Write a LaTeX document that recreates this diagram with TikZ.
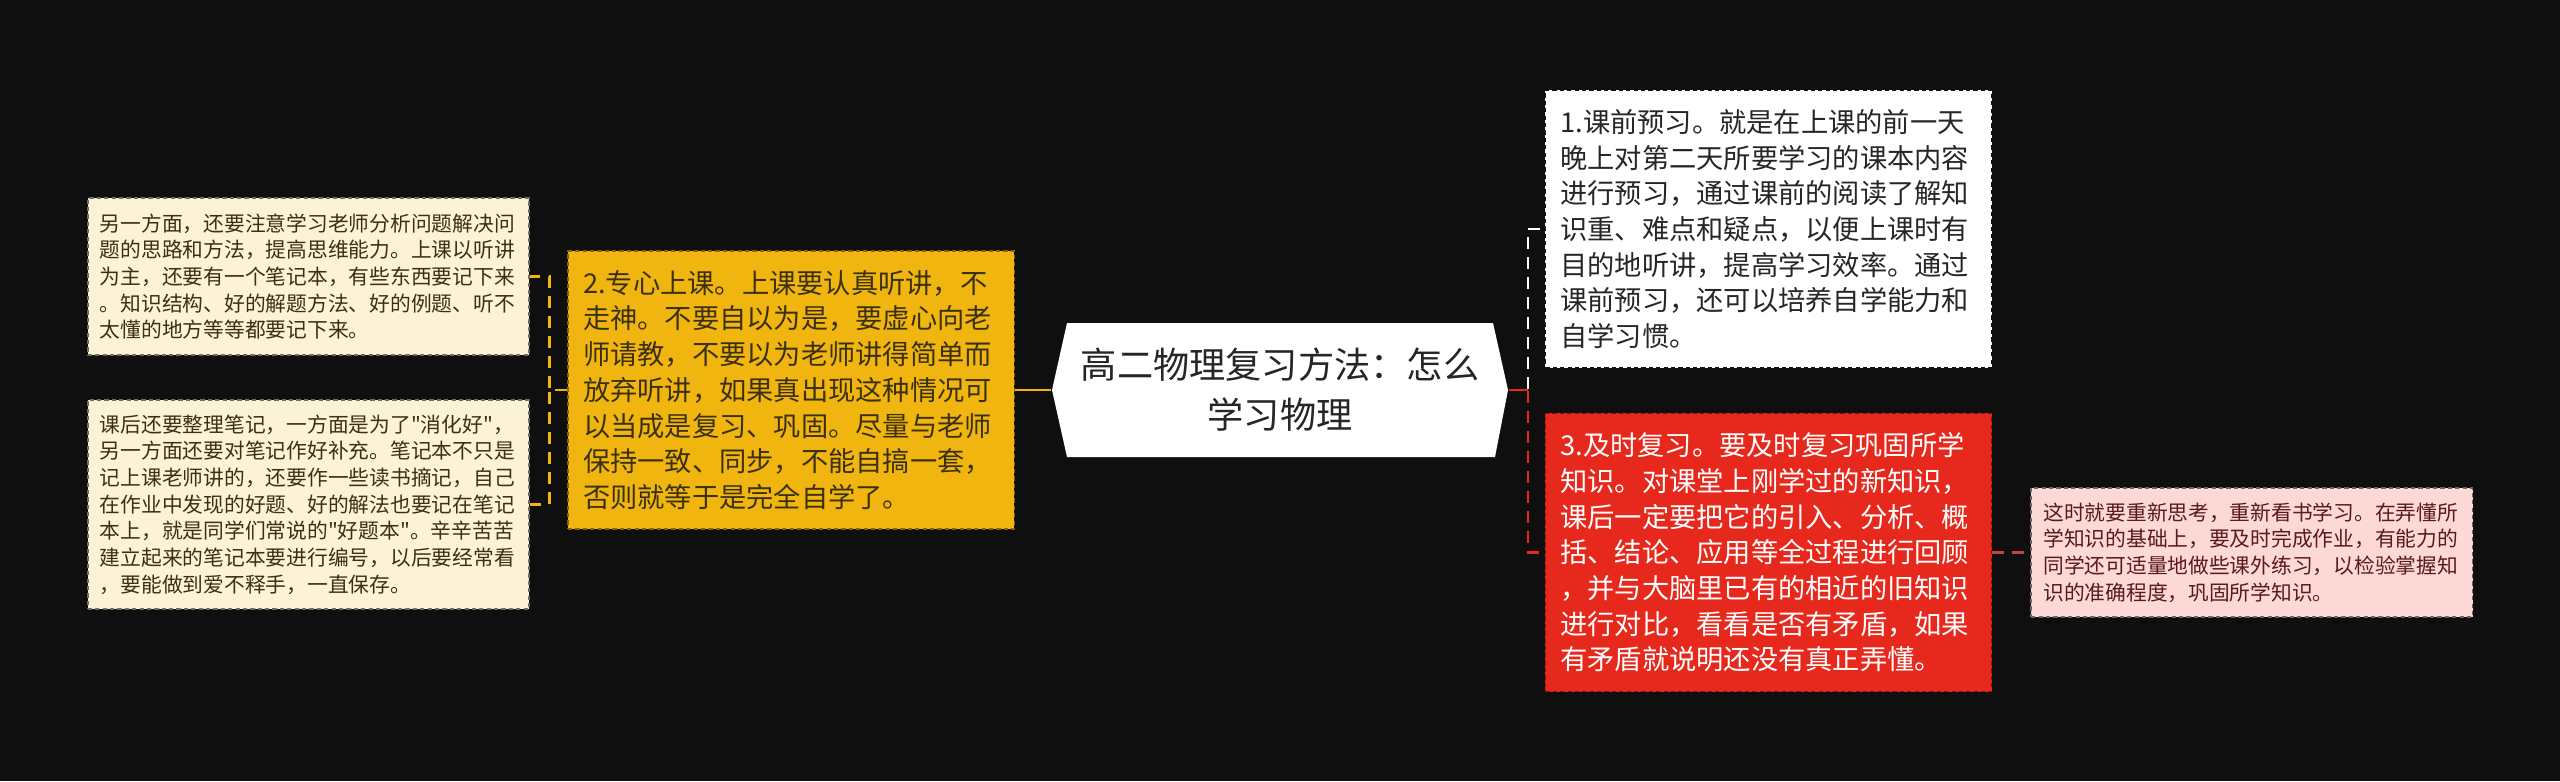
\documentclass[tikz,border=0pt]{standalone}
\usepackage{fontspec}
\newfontfamily\cjk{Noto Sans CJK SC}[Ligatures=TeXOff]
\usetikzlibrary{positioning}

\definecolor{bgdark}{HTML}{0F0F0F}
\definecolor{cream}{HTML}{FCF2D6}
\definecolor{gold}{HTML}{F0B60F}
\definecolor{hotred}{HTML}{E6291C}
\definecolor{blush}{HTML}{FCD9D6}
\definecolor{blushlink}{HTML}{C0444A}
\definecolor{inkbrown}{HTML}{3C3012}
\definecolor{inkmaroon}{HTML}{5A1A1A}

\begin{document}
\begin{tikzpicture}[
    x=0.01cm, y=-0.01cm,
    box/.style={rectangle, inner xsep=0.15cm, inner ysep=0pt, align=left, line width=0.45pt, dash pattern=on 1.2pt off 0.9pt},
    mainbox/.style={box, text width=4.16cm, minimum height=2.78cm, font=\cjk\fontsize{7.75}{10.15}\selectfont},
    leafbox/.style={box, inner xsep=0.12cm, text width=4.17cm, font=\cjk\fontsize{5.9}{7.6}\selectfont},
    title/.style={inner sep=0pt, minimum width=4.56cm, minimum height=1.34cm, align=center, text=black!85, font=\cjk\fontsize{10.3}{14.2}\selectfont},
    link/.style={line width=0.75pt, dash pattern=on 3.4pt off 2.3pt}
]
\useasboundingbox (0,0) rectangle (2560,781);
\fill[bgdark] (0,0) rectangle (2560,781);

% central topic
\fill[white] (1052,390) -- (1067,323) -- (1493,323) -- (1508,390) -- (1495,457) -- (1067,457) -- cycle;
\node[title] (title) at (1280,390) {高二物理复习方法：怎么\\学习物理};

% left branch
\node[mainbox, fill=gold, draw=gold!55!black, text=inkbrown, left=0.36cm of title] (study) {2.专心上课。上课要认真听讲，不\\走神。不要自以为是，要虚心向老\\师请教，不要以为老师讲得简单而\\放弃听讲，如果真出现这种情况可\\以当成是复习、巩固。尽量与老师\\保持一致、同步，不能自搞一套，\\否则就等于是完全自学了。};
\node[leafbox, fill=cream, draw=cream!45!black, text=inkbrown, minimum height=1.57cm] (method) at (308.5,276.5) {另一方面，还要注意学习老师分析问题解决问\\题的思路和方法，提高思维能力。上课以听讲\\为主，还要有一个笔记本，有些东西要记下来\\。知识结构、好的解题方法、好的例题、听不\\太懂的地方等等都要记下来。};
\node[leafbox, fill=cream, draw=cream!45!black, text=inkbrown, minimum height=2.09cm] (notes) at (308.5,504.5) {课后还要整理笔记，一方面是为了"消化好"，\\另一方面还要对笔记作好补充。笔记本不只是\\记上课老师讲的，还要作一些读书摘记，自己\\在作业中发现的好题、好的解法也要记在笔记\\本上，就是同学们常说的"好题本"。辛辛苦苦\\建立起来的笔记本要进行编号，以后要经常看\\，要能做到爱不释手，一直保存。};

% right branch
\node[mainbox, fill=white, draw=bgdark, text=black!85] (preview) at (1768.5,229) {1.课前预习。就是在上课的前一天\\晚上对第二天所要学习的课本内容\\进行预习，通过课前的阅读了解知\\识重、难点和疑点，以便上课时有\\目的地听讲，提高学习效率。通过\\课前预习，还可以培养自学能力和\\自学习惯。};
\node[mainbox, fill=hotred, draw=hotred!55!black, text=white] (review) at (1768.5,552.5) {3.及时复习。要及时复习巩固所学\\知识。对课堂上刚学过的新知识，\\课后一定要把它的引入、分析、概\\括、结论、应用等全过程进行回顾\\，并与大脑里已有的相近的旧知识\\进行对比，看看是否有矛盾，如果\\有矛盾就说明还没有真正弄懂。};
\node[leafbox, fill=blush, draw=blush!45!black, text=inkmaroon, minimum height=1.29cm, right=0.38cm of review] (rethink) {这时就要重新思考，重新看书学习。在弄懂所\\学知识的基础上，要及时完成作业，有能力的\\同学还可适量地做些课外练习，以检验掌握知\\识的准确程度，巩固所学知识。};

% connectors
\draw[gold, line width=0.75pt] (study.east) -- (title.west);
\draw[link, gold] (study.west) -- ++(-18,0) |- (method.east);
\draw[link, gold] (study.west) -- ++(-18,0) |- (notes.east);
\draw[link, white] (title.east) -- ++(19,0) |- (preview.west);
\draw[link, hotred] (title.east) -- ++(19,0) |- (review.west);
\draw[hotred, line width=0.75pt] (title.east) -- ++(19,0);
\draw[link, blushlink] (review.east) -- (rethink.west);

\end{tikzpicture}
\end{document}
